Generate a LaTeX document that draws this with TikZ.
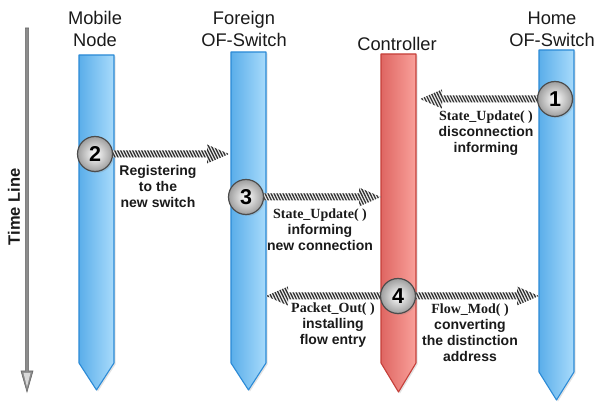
\documentclass[tikz,border=0pt]{standalone}
\usepackage{fontspec}
\setmainfont{Liberation Serif}
\setsansfont{Liberation Sans}
\usetikzlibrary{calc,shadows}
\definecolor{barL}{HTML}{5BAEEA}
\definecolor{barR}{HTML}{A8DBFB}
\definecolor{barB}{HTML}{2B8AD6}
\definecolor{ctlL}{HTML}{DF6662}
\definecolor{ctlR}{HTML}{F9A19B}
\definecolor{ctlB}{HTML}{C53F39}
\definecolor{txt}{HTML}{1A1A1A}
\tikzset{
  shad/.style={drop shadow={opacity=0.22,shadow xshift=1.5pt,shadow yshift=-1.5pt}},
  bluebar/.style={left color=barL,right color=barR,draw=barB,line width=1.1pt,line join=round,shad},
  redbar/.style={left color=ctlL,right color=ctlR,draw=ctlB,line width=1.1pt,line join=round,shad},
  num/.style={circle,minimum size=35pt,inner sep=0pt,draw=black!70,line width=1.2pt,
    inner color=white,outer color=black!38,text=black,
    font=\sffamily\bfseries\fontsize{21.5}{21.5}\selectfont,shad},
  head/.style={font=\sffamily\fontsize{18.3}{22}\selectfont,align=center,text=txt},
  lbl/.style={font=\sffamily\bfseries\fontsize{14}{16}\selectfont,align=center,text=txt},
  stripe/.style={line width=1.3pt,draw=black!80},
}
\newcommand{\fnname}{\rmfamily\bfseries}
\newcommand{\hatcharrow}[2]{%
  \begin{scope}
  \clip let \p1=(#1),\p2=(#2),\n1={sign(\x2-\x1)} in
    (\x1,{\y1+3.5pt}) -- ({\x2-\n1*22pt},{\y1+3.5pt}) -- ({\x2-\n1*22pt},{\y1+9.5pt})
    -- (\x2,\y1) -- ({\x2-\n1*22pt},{\y1-9.5pt}) -- ({\x2-\n1*22pt},{\y1-3.5pt})
    -- (\x1,{\y1-3.5pt}) -- cycle;
  \fill[black!6] (0,0) rectangle (595,403);
  \foreach \i in {0,3,...,810} \draw[stripe] (\i-200,0) -- (\i,403);
  \end{scope}}
\begin{document}
\begin{tikzpicture}[x=1pt,y=-1pt]
\useasboundingbox (0,0) rectangle (595,403);
\fill[white] (0,0) rectangle (595,403);

% time line
\path[fill=black!45,draw=black!60,line width=0.6pt]
  (25.4,28) -- (28.6,28) -- (28.6,371) -- (33,371) -- (27,392) -- (21,371) -- (25.4,371) -- cycle;
\fill[white!85!black] (23.5,373) -- (30.5,373) -- (27,387) -- cycle;
\node[rotate=90,font=\sffamily\bfseries\fontsize{16.5}{18}\selectfont,text=txt] (tl) at (14,207) {Time Line};

% headers
\node[head] (hMN) at (95,29) {Mobile\\Node};
\node[head] (hFS) at (244,29) {Foreign\\OF-Switch};
\node[head] (hC) at (397,44) {Controller};
\node[head] (hHS) at (552,29) {Home\\OF-Switch};

% bars
\path[bluebar] (79,55) -- (114,55) -- (114,363) -- (96.5,390) -- (79,363) -- cycle;
\path[bluebar] (231,52) -- (266,52) -- (266,363) -- (248.5,390) -- (231,363) -- cycle;
\path[redbar] (381,54) -- (416,54) -- (416,363) -- (398.5,392) -- (381,363) -- cycle;
\path[bluebar] (539,50) -- (574,50) -- (574,372) -- (556.5,400) -- (539,372) -- cycle;

% anchor points
\coordinate (p1) at (555,99);
\coordinate (p2) at (95,154);
\coordinate (p3) at (246,197);
\coordinate (p4) at (398,296);
\coordinate (t1) at (420,99);
\coordinate (t2) at (229,154);
\coordinate (t3) at (381,197);
\coordinate (t4a) at (266,296);
\coordinate (t4b) at (539,296);

% hatched arrows
\hatcharrow{p1}{t1}
\hatcharrow{p2}{t2}
\hatcharrow{p3}{t3}
\hatcharrow{p4}{t4a}
\hatcharrow{p4}{t4b}

% numbered circles
\node[num] (c1) at (p1) {1};
\node[num] (c2) at (p2) {2};
\node[num] (c3) at (p3) {3};
\node[num] (c4) at (p4) {4};

% labels
\node[lbl] (l1) at (486,133) {{\fnname State\_Update( )}\\disconnection\\informing};
\node[lbl] (l2) at (158,186) {Registering\\to the\\new switch};
\node[lbl] (l3) at (320,230) {{\fnname State\_Update( )}\\informing\\new connection};
\node[lbl] (l4a) at (333,325) {{\fnname Packet\_Out( )}\\installing\\flow entry};
\node[lbl] (l4b) at (470,333) {{\fnname Flow\_Mod( )}\\converting\\the distinction\\address};
\end{tikzpicture}
\end{document}
